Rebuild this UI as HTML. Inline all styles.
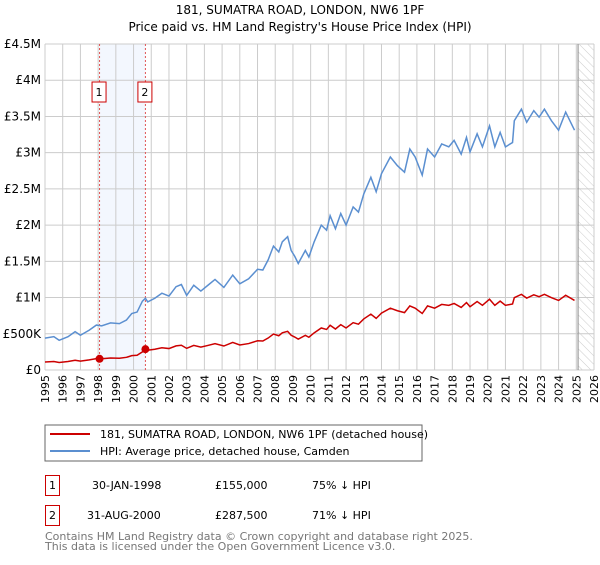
<!DOCTYPE html>
<html><head><meta charset="utf-8"><style>
body{margin:0;background:#fff;font-family:"Liberation Sans","DejaVu Sans",sans-serif;}
svg text{font-family:"DejaVu Sans","Liberation Sans",sans-serif;}
</style></head><body>
<svg id="c" width="600" height="560" xmlns="http://www.w3.org/2000/svg">
<defs><pattern id="hatch" width="6" height="6" patternUnits="userSpaceOnUse" patternTransform="rotate(-45)"><line x1="0" y1="0" x2="0" y2="6" stroke="#ccc" stroke-width="1"/></pattern></defs>
<text x="300" y="14" text-anchor="middle" font-size="12" fill="#000">181, SUMATRA ROAD, LONDON, NW6 1PF</text>
<text x="300" y="31" text-anchor="middle" font-size="12" fill="#000">Price paid vs. HM Land Registry's House Price Index (HPI)</text>
<g id="plot"></g>
<rect x="45" y="425" width="377" height="36" fill="#fff" stroke="#666"/>
<line x1="50" y1="434" x2="90" y2="434" stroke="#cc0000" stroke-width="2"/>
<text x="100" y="438" font-size="11">181, SUMATRA ROAD, LONDON, NW6 1PF (detached house)</text>
<line x1="50" y1="451" x2="90" y2="451" stroke="#5b8fd0" stroke-width="2"/>
<text x="100" y="455" font-size="11">HPI: Average price, detached house, Camden</text>
<g>
<rect x="45.5" y="475.5" width="14" height="20" fill="#fff" stroke="#cc0000"/>
<text x="52.5" y="489" font-size="11" text-anchor="middle">1</text>
<text x="92" y="489" font-size="11">30-JAN-1998</text>
<text x="215" y="489" font-size="11">£155,000</text>
<text x="312" y="489" font-size="11">75% ↓ HPI</text></g>
<g>
<rect x="45.5" y="505.5" width="14" height="20" fill="#fff" stroke="#cc0000"/>
<text x="52.5" y="519" font-size="11" text-anchor="middle">2</text>
<text x="87" y="519" font-size="11">31-AUG-2000</text>
<text x="215" y="519" font-size="11">£287,500</text>
<text x="312" y="519" font-size="11">71% ↓ HPI</text></g>
<text x="45" y="540" font-size="11" fill="#777">Contains HM Land Registry data © Crown copyright and database right 2025.</text>
<text x="45" y="550" font-size="11" fill="#777">This data is licensed under the Open Government Licence v3.0.</text>
</svg>
<script>
const dates=[1995,1995.5,1995.8,1996.3,1996.7,1997,1997.5,1997.9,1998.2,1998.7,1999.2,1999.6,1999.9,2000.2,2000.5,2000.67,2000.8,2001.2,2001.6,2002.0,2002.4,2002.7,2003.0,2003.4,2003.8,2004.2,2004.6,2005.1,2005.6,2006.0,2006.5,2007.0,2007.3,2007.6,2007.9,2008.2,2008.4,2008.7,2008.9,2009.1,2009.3,2009.7,2009.9,2010.2,2010.6,2010.9,2011.1,2011.4,2011.7,2012.0,2012.4,2012.7,2013.0,2013.4,2013.7,2014.0,2014.5,2014.9,2015.3,2015.6,2015.9,2016.3,2016.6,2017.0,2017.4,2017.8,2018.1,2018.5,2018.8,2019.0,2019.4,2019.7,2020.1,2020.4,2020.7,2021.0,2021.4,2021.5,2021.9,2022.2,2022.6,2022.9,2023.2,2023.6,2024.0,2024.4,2024.9];
const hpi=[0.44,0.46,0.41,0.46,0.53,0.48,0.55,0.62,0.61,0.65,0.64,0.69,0.78,0.80,0.95,0.99,0.94,0.99,1.06,1.02,1.15,1.18,1.03,1.17,1.09,1.17,1.25,1.14,1.31,1.19,1.26,1.39,1.38,1.52,1.71,1.63,1.77,1.84,1.65,1.57,1.47,1.65,1.56,1.77,2.00,1.93,2.13,1.95,2.16,2.00,2.25,2.18,2.43,2.66,2.46,2.71,2.94,2.82,2.73,3.05,2.94,2.69,3.05,2.94,3.12,3.08,3.17,2.98,3.21,3.01,3.26,3.08,3.37,3.08,3.28,3.08,3.14,3.44,3.60,3.42,3.58,3.49,3.60,3.44,3.31,3.56,3.31];
const price=[0.11,0.117,0.104,0.117,0.135,0.122,0.14,0.157,0.155,0.165,0.163,0.175,0.198,0.203,0.25,0.2875,0.273,0.287,0.307,0.296,0.333,0.342,0.299,0.339,0.316,0.339,0.363,0.331,0.38,0.345,0.365,0.403,0.40,0.441,0.496,0.473,0.513,0.534,0.479,0.455,0.426,0.479,0.452,0.513,0.58,0.56,0.618,0.566,0.626,0.58,0.653,0.632,0.705,0.771,0.713,0.786,0.853,0.818,0.792,0.885,0.853,0.78,0.885,0.853,0.905,0.893,0.919,0.864,0.931,0.873,0.945,0.893,0.977,0.893,0.951,0.893,0.911,0.998,1.044,0.992,1.038,1.012,1.044,0.998,0.96,1.032,0.96];
const saleDates=[1998.08,2000.67];
const salePrices=[0.155,0.2875];
const saleLabels=["1","2"];
const yTicks=[0,0.5,1,1.5,2,2.5,3,3.5,4,4.5];
const yTickLabels=["£0","£500K","£1M","£1.5M","£2M","£2.5M","£3M","£3.5M","£4M","£4.5M"];
const x0=45,x1=594,y0=370,y1=44;
const X=t=>x0+(t-1995)/(2026-1995)*(x1-x0);
const Y=v=>y0-v/4.5*(y0-y1);
const NS="http://www.w3.org/2000/svg";
const g=document.getElementById('plot');
function mk(tag,attrs,parent){const e=document.createElementNS(NS,tag);for(const k in attrs)e.setAttribute(k,attrs[k]);(parent||g).appendChild(e);return e;}
const band=mk('rect',{x:X(saleDates[0]),y:y1,width:X(saleDates[1])-X(saleDates[0]),height:y0-y1,fill:'#eef3fd',opacity:0.7});


const hatch=mk('rect',{x:X(2025.1),y:y1,width:x1-X(2025.1),height:y0-y1,fill:'url(#hatch)'});


for(let yr=1995;yr<=2026;yr++){
 const l=mk('line',{x1:X(yr),x2:X(yr),y1:y1,y2:y0,stroke:'#ccc','stroke-width':1});
 
 
 const t=mk('text',{x:0,y:0,'font-size':11,'text-anchor':'end',transform:`translate(${X(yr)+4},${y0+5}) rotate(-90)`});
 t.textContent=yr;
 
 
}
yTicks.forEach((v,i)=>{
 const l=mk('line',{x1:x0,x2:x1,y1:Y(v),y2:Y(v),stroke:'#ccc','stroke-width':1});
 
 
 const t=mk('text',{x:x0-4,y:Y(v)+4,'font-size':12,'text-anchor':'end'});
 t.textContent=yTickLabels[i];
 
 
});
const endLine=mk('line',{x1:X(2025.1),x2:X(2025.1),y1:y1,y2:y0,stroke:'#888','stroke-width':1});


saleDates.forEach((d,i)=>{
 const l=mk('line',{x1:X(d),x2:X(d),y1:y1,y2:y0,stroke:'#e05555','stroke-width':1,'stroke-dasharray':'2,2'});
 
 
 const r=mk('rect',{x:X(d)-7.5,y:82,width:14,height:20,fill:'#fff',stroke:'#cc0000'});
 
 
 const t=mk('text',{x:X(d)-0.5,y:96,'font-size':11,'text-anchor':'middle'});
 t.textContent=saleLabels[i];
 
 
});
const hp=mk('polyline',{points:dates.map((d,i)=>X(d)+','+Y(hpi[i])).join(' '),fill:'none',stroke:'#5b8fd0','stroke-width':1.5});


const pp=mk('polyline',{points:dates.map((d,i)=>X(d)+','+Y(price[i])).join(' '),fill:'none',stroke:'#cc0000','stroke-width':1.5});


saleDates.forEach((d,i)=>{
 const c=mk('circle',{cx:X(d),cy:Y(salePrices[i]),r:4,fill:'#cc0000'});
 
 
});
</script>
</body></html>
